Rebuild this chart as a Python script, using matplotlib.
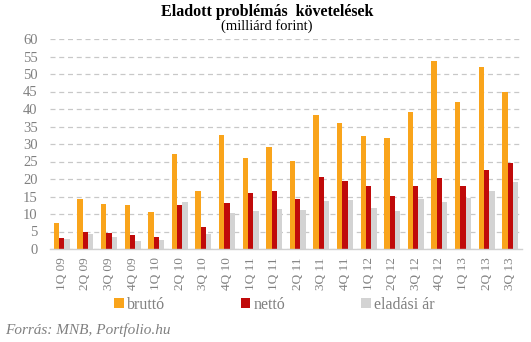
import matplotlib
matplotlib.use("Agg")
import matplotlib.pyplot as plt
import numpy as np
from matplotlib.patches import Patch

categories = ["1Q 09", "2Q 09", "3Q 09", "4Q 09", "1Q 10", "2Q 10", "3Q 10", "4Q 10",
              "1Q 11", "1Q 11", "2Q 11", "3Q 11", "4Q 11", "1Q 12", "2Q 12", "3Q 12",
              "4Q 12", "1Q 13", "2Q 13", "3Q 13"]
brutto = [7.3, 14.3, 12.9, 12.6, 10.6, 27.1, 16.6, 32.6, 26.0, 29.1, 25.1, 38.3,
          36.0, 32.3, 31.7, 39.1, 53.7, 42.0, 52.0, 44.9]
netto = [3.2, 4.9, 4.6, 4.0, 3.4, 12.6, 6.3, 13.1, 16.0, 16.6, 14.3, 20.6,
         19.4, 18.0, 15.1, 18.0, 20.3, 18.0, 22.6, 24.6]
eladasi = [2.9, 4.3, 3.4, 2.3, 2.6, 13.4, 4.3, 10.3, 10.9, 11.4, 11.1, 13.7,
           14.0, 11.7, 10.9, 14.3, 13.4, 14.6, 16.6, 19.1]
series_names = ["bruttó", "nettó", "eladási ár"]
colors = ["#F9A41B", "#C00A0A", "#D3D3D3"]

fig = plt.figure(figsize=(5.31, 3.42), dpi=100)
ax = fig.add_axes([50/531, 1-249/342, (522-50)/531, (249-39)/342])

serif = ["Liberation Serif", "DejaVu Serif"]
grey = "#808080"

x = np.arange(len(categories))
w = 0.225
for i, (vals, c) in enumerate(zip([brutto, netto, eladasi], colors)):
    ax.bar(x + (i - 1) * w, vals, width=w, color=c, zorder=3, linewidth=0)

ax.set_xlim(-0.5, len(categories) - 0.5)
ax.set_ylim(0, 60)
ax.set_yticks(np.arange(0, 61, 5))
ax.yaxis.grid(True, linestyle=(0, (4, 3)), color="#C8C8C8", linewidth=0.9, zorder=0)
ax.set_xticks(x)
ax.set_xticklabels(categories, rotation=90, fontfamily=serif, fontsize=9.5, color=grey)
for lab in ax.get_yticklabels():
    lab.set_fontfamily(serif)
    lab.set_fontsize(10.5)
    lab.set_color(grey)
ax.tick_params(axis="both", length=0)
ax.tick_params(axis="x", pad=6)
ax.tick_params(axis="y", pad=9)
for s in ["top", "right", "left"]:
    ax.spines[s].set_visible(False)
ax.spines["bottom"].set_color("#D0D0D0")
ax.spines["bottom"].set_linewidth(1.0)
ax.spines["bottom"].set_zorder(4)

fig.text(0.503, 1-12/342, "Eladott problémás  követelések", ha="center", va="center",
         fontfamily=serif, fontsize=11.5, fontweight="bold", color="black")
fig.text(0.503, 1-26/342, "(milliárd forint)", ha="center", va="center",
         fontfamily=serif, fontsize=10.5, color="black")

handles = [Patch(facecolor=c, edgecolor="none") for c in colors]
leg = fig.legend(handles, series_names, loc="center left", bbox_to_anchor=(114/531, 1-305/342),
                 ncol=3, frameon=False, handlelength=0.6, handleheight=0.6, handletextpad=0.2,
                 columnspacing=4.75, prop={"family": serif, "size": 11.5}, borderaxespad=0,
                 borderpad=0)
for t in leg.get_texts():
    t.set_color(grey)

fig.text(5/531, 1-330/342, "Forrás: MNB, Portfolio.hu", ha="left", va="center",
         fontfamily=serif, fontsize=11, style="italic", color=grey)

fig.savefig("out.png", dpi=100)
